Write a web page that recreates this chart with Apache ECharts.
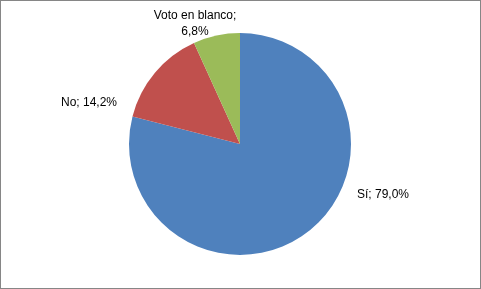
<!DOCTYPE html>
<html><head><meta charset="utf-8">
<script src="https://cdn.jsdelivr.net/npm/echarts@6/dist/echarts.min.js"></script>
<style>html,body{margin:0;padding:0;background:#fff}#c{width:481px;height:289px;box-sizing:border-box;border:1px solid #868686}</style>
</head><body><div id="c"></div>
<script>
const categories = ['Sí', 'No', 'Voto en blanco'];
const values = [79.0, 14.2, 6.8];
const colors = ['#4F81BD', '#C0504D', '#9BBB59'];

const chart = echarts.init(document.getElementById('c'), null, {renderer: 'canvas'});
const labelSpots = [
  {x: 356, y: 194, align: 'left'},
  {x: 116, y: 102, align: 'right'},
  {x: 194, y: 23, align: 'center'}
];
chart.setOption({
  animation: false,
  series: [{
    type: 'pie',
    center: [239, 143],
    radius: 111,
    startAngle: 90,
    clockwise: true,
    data: categories.map((c, i) => ({name: c, value: values[i], itemStyle: {color: colors[i]}})),
    label: {
      show: true,
      position: 'outside',
      fontFamily: 'Liberation Sans',
      fontSize: 12,
      color: '#000',
      lineHeight: 16,
      formatter: p => p.dataIndex === 2
        ? p.name + ';\n' + p.value.toFixed(1).replace('.', ',') + '%'
        : p.name + '; ' + p.value.toFixed(1).replace('.', ',') + '%'
    },
    labelLine: {show: false},
    labelLayout: p => Object.assign({verticalAlign: 'middle'}, labelSpots[p.dataIndex]),
    itemStyle: {borderWidth: 0}
  }]
});
</script></body></html>
